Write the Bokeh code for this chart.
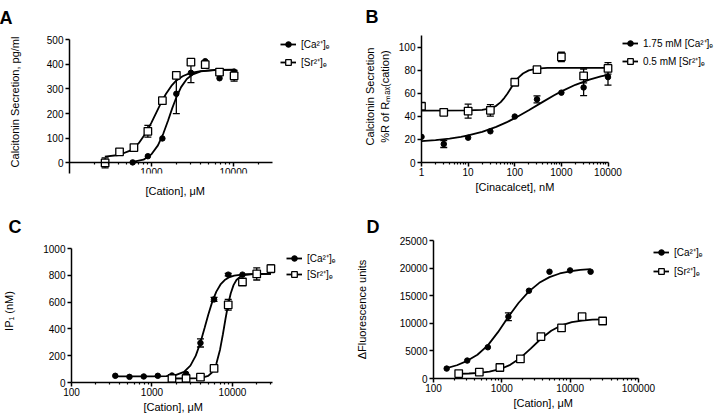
import math
from bokeh.plotting import figure
from bokeh.models import (Range1d, FixedTicker, Legend, LegendItem, Whisker, TeeHead,
                          ColumnDataSource, PrintfTickFormatter, Title)
from bokeh.layouts import column, row
from bokeh.embed import file_html
from bokeh.resources import INLINE

FONT = "Liberation Sans"
CA = "[Ca²⁺]ₑ"
SR = "[Sr²⁺]ₑ"

# ---------------- Panel A : calcitonin secretion vs cation ----------------
A_ca_x = [590, 904, 1360, 2012, 3033, 4530, 6770, 10200]
A_ca_y = [2, 27, 99, 280, 365, 412, 343, 370]
A_ca_err = [0, 0, 0, 80, 40, 0, 0, 0]
A_sr_x = [272, 408, 611, 904, 1360, 2012, 3033, 4530, 6770, 10200]
A_sr_y = [0, 45, 62, 128, 252, 355, 408, 398, 368, 353]
A_sr_err = [20, 0, 0, 24, 10, 0, 0, 0, 0, 22]
A_ca_fit_x = [590, 800, 1000, 1200, 1400, 1600, 1800, 2000, 2300, 2700, 3200, 4000, 6000, 10000]
A_ca_fit_y = [4, 13, 35, 71, 120, 173, 223, 263, 307, 340, 359, 371, 377, 378]
A_sr_fit_x = [270, 400, 550, 700, 850, 1000, 1150, 1300, 1500, 1750, 2000, 2400, 3000, 4000, 6000, 10000]
A_sr_fit_y = [25, 32, 50, 80, 120, 163, 205, 241, 279, 312, 333, 351, 365, 372, 376, 377]
A_xticks = [1000, 10000]
A_yticks = [0, 100, 200, 300, 400, 500]

# ---------------- Panel B : calcitonin secretion vs cinacalcet ----------------
B_x = [1, 3, 10, 30, 100, 300, 1000, 3000, 10000]
B_ca_y = [22.2, 16, 21.5, 27, 39.8, 54.7, 60.5, 65, 74]
B_ca_err = [0, 3, 0, 0, 0, 3, 0, 7, 7]
B_sr_y = [48.7, 43.5, 44.5, 45.2, 69.5, 80.4, 91.5, 75, 81.5]
B_sr_err = [0, 0, 6, 5, 0, 0, 4, 6, 5]
B_ca_fit_x = [1, 2, 4, 7, 10, 20, 40, 70, 100, 200, 400, 700, 1000, 2000, 4000, 7000, 10000]
B_ca_fit_y = [18.6, 19.4, 20.7, 22.2, 23.4, 26.5, 30.8, 35.2, 38.4, 45.2, 52.5, 58.2, 61.6, 67.3, 71.8, 74.6, 76]
B_sr_fit_x = [1, 10, 20, 30, 40, 50, 60, 70, 80, 90, 100, 120, 150, 200, 300, 500, 1000, 10000]
B_sr_fit_y = [45, 45.1, 45.6, 46.9, 49.1, 52.3, 56.0, 59.8, 63.5, 66.7, 69.5, 73.5, 77.1, 79.8, 81.3, 81.9, 82, 82]
B_xticks = [1, 10, 100, 1000, 10000]
B_yticks = [0, 20, 40, 60, 80, 100]

# ---------------- Panel C : IP1 vs cation ----------------
C_ca_x = [350, 525, 790, 1180, 1770, 2650, 4000, 5900, 8850, 13300]
C_ca_y = [50, 42, 45, 50, 52, 65, 295, 620, 805, 805]
C_ca_err = [0, 0, 0, 0, 0, 0, 30, 15, 10, 0]
C_sr_x = [1770, 2650, 4000, 5900, 8850, 13300, 20000, 30000]
C_sr_y = [30, 30, 40, 105, 580, 750, 810, 850]
C_sr_err = [0, 0, 0, 0, 40, 0, 45, 30]
C_ca_fit_x = [350, 600, 1000, 1500, 2000, 2500, 3000, 3500, 4000, 4500, 5000, 5600, 6300, 7100, 8000, 9000, 10500, 13000, 17000, 22000, 30000]
C_ca_fit_y = [45, 45, 45.4, 47.8, 56.7, 79.6, 125.8, 200.5, 299, 406.5, 506, 601.7, 678.5, 731.6, 764.7, 784.2, 797.9, 805.8, 808.5, 809.5, 810]
C_sr_fit_x = [1770, 3000, 4000, 5000, 5600, 6300, 7000, 7600, 8200, 8800, 9500, 10300, 11200, 12500, 14500, 18000, 23000, 30000]
C_sr_fit_y = [30, 30.3, 33.4, 49.5, 76.6, 139.5, 244.7, 360, 477.6, 578.4, 664.7, 726.6, 765, 790.6, 804, 809, 810, 810]
C_xticks = [100, 1000, 10000]
C_yticks = [0, 200, 400, 600, 800, 1000]

# ---------------- Panel D : fluorescence vs cation ----------------
D_ca_x = [156, 312, 625, 1250, 2500, 5000, 10000, 20000]
D_ca_y = [1800, 3250, 5660, 11200, 15900, 19340, 19580, 19340]
D_ca_err = [0, 0, 0, 700, 0, 0, 0, 0]
D_sr_x = [234, 469, 938, 1875, 3750, 7500, 15000, 30000]
D_sr_y = [900, 1150, 1990, 3550, 7590, 9160, 11200, 10420]
D_sr_err = [0, 0, 0, 0, 0, 600, 400, 400]
D_ca_fit_x = [156, 220, 312, 440, 625, 880, 1250, 1770, 2500, 3540, 5000, 7070, 10000, 14140, 20000]
D_ca_fit_y = [1900, 2400, 3200, 4300, 6000, 8400, 11200, 13720, 15787, 17330, 18366, 19025, 19428, 19667, 19807]
D_sr_fit_x = [234, 330, 469, 660, 938, 1330, 1875, 2650, 3750, 5300, 7500, 10600, 15000, 21200, 30000]
D_sr_fit_y = [852, 907, 1021, 1243, 1683, 2480, 3733, 5419, 7203, 8664, 9642, 10204, 10503, 10654, 10729]
D_xticks = [100, 1000, 10000, 100000]
D_yticks = [0, 5000, 10000, 15000, 20000, 25000]


def minor_log(lo, hi):
    ticks = []
    e = math.floor(math.log10(lo))
    while 10 ** e <= hi:
        for k in range(2, 10):
            v = k * 10 ** e
            if lo < v < hi:
                ticks.append(v)
        e += 1
    return ticks


def add_err(p, xs, ys, errs):
    bx = [x for x, e in zip(xs, errs) if e > 0]
    up = [y + e for y, e in zip(ys, errs) if e > 0]
    lo = [y - e for y, e in zip(ys, errs) if e > 0]
    if not bx:
        return
    src = ColumnDataSource(dict(base=bx, upper=up, lower=lo))
    w = Whisker(source=src, base="base", upper="upper", lower="lower", dimension="height",
                line_color="black", line_width=1.3, level="underlay",
                upper_head=TeeHead(size=7, line_color="black", line_width=1.3),
                lower_head=TeeHead(size=7, line_color="black", line_width=1.3))
    p.add_layout(w)


def style_axis(ax):
    ax.axis_line_color = "black"
    ax.axis_line_width = 1.5
    ax.major_tick_line_color = "black"
    ax.major_tick_line_width = 1.5
    ax.major_tick_in = 0
    ax.major_tick_out = 4
    ax.minor_tick_line_color = "black"
    ax.minor_tick_line_width = 1.2
    ax.minor_tick_in = 0
    ax.minor_tick_out = 2
    ax.major_label_text_font = FONT
    ax.major_label_text_font_size = "10px"
    ax.major_label_text_color = "black"
    ax.axis_label_text_font = FONT
    ax.axis_label_text_font_size = "11px"
    ax.axis_label_text_font_style = "normal"
    ax.axis_label_text_color = "black"


def panel(letter, width, height, xaxis_rng, ax_px, frame_right_px, yaxis_rng, y_top_extra,
          xticks, yticks, border, xlabel, xlab_offset, xlab_standoff, ylabel, y_lab_standoff,
          title_offset, title_standoff, ca, sr, labels, leg_loc, leg_spacing, x_fixed=None):
    l, t, b = border
    # the frame runs on to the right (room for the legend); the axis line is bounded
    lo, hi = math.log10(xaxis_rng[0]), math.log10(xaxis_rng[1])
    per_px = (hi - lo) / (ax_px[1] - ax_px[0])
    x_end = 10 ** (hi + (frame_right_px - ax_px[1]) * per_px)
    y0, y1 = yaxis_rng
    frame_h = height - t - b
    ax_h = frame_h - y_top_extra
    y_end = y1 + y_top_extra * (y1 - y0) / ax_h
    r = width - frame_right_px
    p = figure(width=width, height=height, x_axis_type="log",
               x_range=Range1d(xaxis_rng[0], x_end), y_range=Range1d(y0, y_end),
               output_backend="svg", toolbar_location=None, frame_align=False,
               min_border_left=l, min_border_right=r, min_border_top=t, min_border_bottom=b)
    p.outline_line_color = None
    p.grid.visible = False
    p.background_fill_color = "white"
    p.border_fill_color = "white"
    p.title.text = letter
    p.title.align = "left"
    p.title.offset = title_offset
    p.title.standoff = title_standoff
    p.title.text_font = FONT
    p.title.text_font_size = "18px"
    p.title.text_font_style = "bold"
    p.title.text_color = "black"

    xa = p.xaxis[0]
    ya = p.yaxis[0]
    xa.ticker = FixedTicker(ticks=xticks, minor_ticks=minor_log(xaxis_rng[0], xaxis_rng[1]))
    xa.formatter = PrintfTickFormatter(format="%d")
    xa.bounds = xaxis_rng
    ya.ticker = FixedTicker(ticks=yticks, minor_ticks=[])
    ya.bounds = yaxis_rng
    style_axis(xa)
    style_axis(ya)
    ya.minor_tick_line_color = None
    ya.axis_label = ylabel
    xa.major_label_standoff = 1
    ya.major_label_standoff = 2
    ya.axis_label_standoff = y_lab_standoff
    if x_fixed is not None:
        xa.fixed_location = x_fixed
    # x-axis title, placed under the bounded axis (not under the whole frame)
    p.add_layout(Title(text=xlabel, align="left", offset=xlab_offset, standoff=xlab_standoff,
                       text_font=FONT, text_font_size="11px", text_font_style="normal",
                       text_color="black"), "below")

    add_err(p, ca[0], ca[1], ca[2])
    add_err(p, sr[0], sr[1], sr[2])
    ca_line = p.line(ca[3], ca[4], line_color="black", line_width=1.8)
    sr_line = p.line(sr[3], sr[4], line_color="black", line_width=1.8)
    ca_pts = p.scatter(ca[0], ca[1], marker="circle", size=5.5,
                       fill_color="black", line_color="black", line_width=1)
    sr_pts = p.scatter(sr[0], sr[1], marker="square", size=7.5,
                       fill_color="white", line_color="black", line_width=1.3)
    leg = Legend(items=[LegendItem(label=labels[0], renderers=[ca_line, ca_pts]),
                        LegendItem(label=labels[1], renderers=[sr_line, sr_pts])],
                 location=leg_loc, orientation="vertical",
                 border_line_color=None, background_fill_alpha=0,
                 label_text_font=FONT, label_text_font_size="10px", label_text_color="black",
                 glyph_width=16, glyph_height=14, label_height=14, spacing=leg_spacing,
                 padding=0, margin=0, label_standoff=5)
    p.add_layout(leg)
    return p


pA = panel("A", 360, 209, (100, 30000), (69, 272), 358, (-43, 500), 9,
           A_xticks, A_yticks, (69, 30, 36),
           "[Cation], μM", 76, 19, "Calcitonin Secretion, pg/ml", 23, -70, 6,
           (A_ca_x, A_ca_y, A_ca_err, A_ca_fit_x, A_ca_fit_y),
           (A_sr_x, A_sr_y, A_sr_err, A_sr_fit_x, A_sr_fit_y),
           (CA, SR), (211, 104), 4, x_fixed=0)

pB = panel("B", 360, 209, (1, 10000), (61, 247.5), 358, (0, 110), 5,
           B_xticks, B_yticks, (61, 30, 47),
           "[Cinacalcet], nM", 54, 0, "Calcitonin Secretion\n%R of Rₘₐₓ(cation)", 5, -56, 8,
           (B_x, B_ca_y, B_ca_err, B_ca_fit_x, B_ca_fit_y),
           (B_x, B_sr_y, B_sr_err, B_sr_fit_x, B_sr_fit_y),
           ("1.75 mM " + CA, "0.5 mM " + SR), (201, 94), 4)

pC = panel("C", 352, 209, (100, 31000), (68, 270.7), 350, (0, 1000), 9,
           C_xticks, C_yticks, (68, 30, 36),
           "[Cation], μM", 72, 0, "IP₁ (nM)", 25, -63, 6,
           (C_ca_x, C_ca_y, C_ca_err, C_ca_fit_x, C_ca_fit_y),
           (C_sr_x, C_sr_y, C_sr_err, C_sr_fit_x, C_sr_fit_y),
           (CA, SR), (215, 101), 2)

pD = panel("D", 368, 209, (100, 100000), (77, 284.7), 366, (0, 25000), 0,
           D_xticks, D_yticks, (77, 31, 40),
           "[Cation], μM", 80, 0, "ΔFluorescence units", 29, -67, 8,
           (D_ca_x, D_ca_y, D_ca_err, D_ca_fit_x, D_ca_fit_y),
           (D_sr_x, D_sr_y, D_sr_err, D_sr_fit_x, D_sr_fit_y),
           (CA, SR), (220, 100), 5)

layout = column(row(pA, pB), row(pC, pD))
open("out.html", "w").write(file_html(layout, INLINE))
